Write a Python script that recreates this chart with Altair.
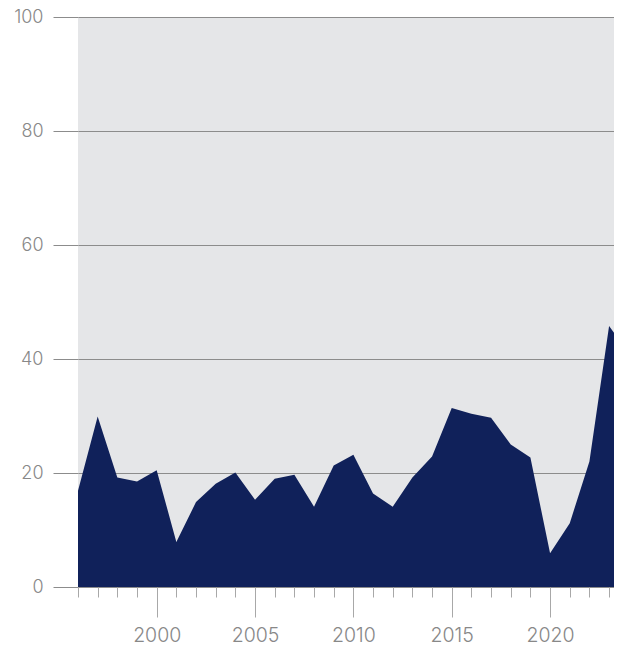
import altair as alt
import pandas as pd

years = list(range(1996, 2025))
values = [16.9, 29.9, 19.2, 18.5, 20.5, 7.9, 14.9, 18.1, 20.1, 15.3,
          19.0, 19.7, 14.1, 21.3, 23.2, 16.4, 14.1, 19.2, 22.9, 31.4,
          30.4, 29.7, 25.0, 22.7, 5.9, 11.2, 22.0, 45.8, 41.0]
y_ticks = [0, 20, 40, 60, 80, 100]
x_ticks = list(range(1996, 2024))

df = pd.DataFrame({"year": years, "value": values})

FONT = "Inter"
LABEL = "#888888"
GRID = "#8c8c8c"

chart = alt.Chart(df).mark_area(color="#10215a", clip=True).encode(
    x=alt.X("year:Q",
            scale=alt.Scale(domain=[1996, 2023.25], nice=False, zero=False),
            axis=alt.Axis(values=x_ticks, title=None, grid=False, domain=False,
                          tickSize={"condition": {"test": "datum.value % 5 === 0", "value": 30}, "value": 10},
                          tickColor="#a8a8a8", tickWidth=1,
                          labelExpr="datum.value % 5 === 0 ? datum.value : ''",
                          labelPadding=9, labelFont=FONT, labelFontSize=19.5,
                          labelFontWeight=300,
                          labelColor=LABEL, labelFlush=False, format="d")),
    y=alt.Y("value:Q",
            scale=alt.Scale(domain=[0, 100], nice=False),
            axis=alt.Axis(values=y_ticks, title=None, domain=False, grid=True,
                          gridColor=GRID, gridWidth=1, tickSize=25, tickColor=GRID,
                          labelPadding=10, labelFont=FONT, labelFontSize=18,
                          labelFontWeight=300,
                          labelColor=LABEL)),
).properties(
    width=536, height=570,
    padding={"left": 70, "top": 9, "right": 0, "bottom": 58},
    autosize="none",
).configure_view(fill="#e5e6e8", stroke=None)

chart.save("out.html", embed_options={"renderer": "svg", "actions": False})
